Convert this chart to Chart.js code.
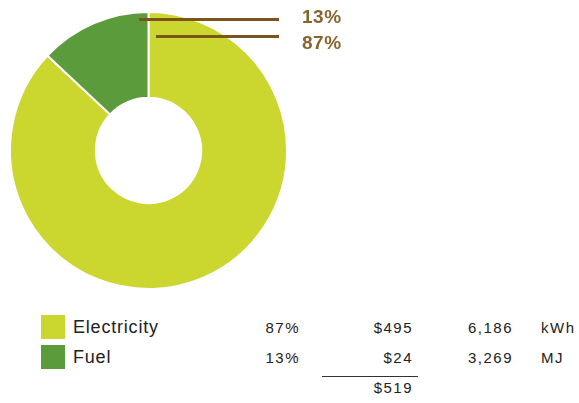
<!DOCTYPE html>
<html>
<head>
<meta charset="utf-8">
<script src="https://cdn.jsdelivr.net/npm/chart.js@4.4.1/dist/chart.umd.min.js"></script>
<style>
    body { margin: 0; background: #fff; font-family: "Liberation Sans", Arial, sans-serif; }
    #wrap { position: relative; width: 579px; height: 403px; }
    #pie { position: absolute; left: 0; top: 0; }
    .cell { position: absolute; color: #222; white-space: nowrap; line-height: 1; }
    .name { font-size: 18px; letter-spacing: 0.8px; }
    .num { font-size: 15px; letter-spacing: 1.5px; text-align: right; }
    .swatch { position: absolute; width: 24px; height: 24px; }
    #rule { position: absolute; left: 322px; top: 376px; width: 96px; height: 1px; background: #333; }
</style>
</head>
<body>
<div id="wrap">
    <canvas id="pie" width="579" height="303"></canvas>
    <div id="rule"></div>
</div>
<script>
var categories = ['Electricity', 'Fuel'];
var shares = [87, 13];
var costs = [495, 24];
var usage = [6186, 3269];
var units = ['kWh', 'MJ'];
var colors = ['#cbd62f', '#5c9b3c'];

// leader lines from the top of the ring out to the percentage labels
var leaderLines = {
    id: 'leaderLines',
    afterDatasetsDraw: function (chart) {
        var ctx = chart.ctx;
        var arcs = chart.getDatasetMeta(0).data;
        var marks = [];
        arcs.forEach(function (arc, i) {
            var p = arc.getProps(['x', 'y', 'startAngle', 'endAngle', 'outerRadius']);
            var a, r;
            if (i === 0) { a = p.startAngle + 0.065; r = p.outerRadius - 23.5; }
            else { a = p.endAngle - 0.072; r = p.outerRadius - 6.5; }
            marks.push({ x: p.x + Math.cos(a) * r, y: p.y + Math.sin(a) * r, text: shares[i] + '%' });
        });
        marks.sort(function (m, n) { return m.y - n.y; });
        ctx.save();
        ctx.strokeStyle = '#7a561c';
        ctx.lineWidth = 3;
        ctx.fillStyle = '#86652e';
        ctx.font = 'bold 19px "Liberation Sans", Arial, sans-serif';
        ctx.letterSpacing = '0.5px';
        ctx.textBaseline = 'middle';
        var labelY = [18, 44];
        marks.forEach(function (m, k) {
            ctx.beginPath();
            ctx.moveTo(m.x, Math.round(m.y) + 0.5);
            ctx.lineTo(279, Math.round(m.y) + 0.5);
            ctx.stroke();
            ctx.fillText(m.text, 302, labelY[k]);
        });
        ctx.restore();
    }
};

new Chart(document.getElementById('pie'), {
    type: 'doughnut',
    data: {
        labels: categories,
        datasets: [{
            data: shares,
            backgroundColor: colors,
            borderColor: '#ffffff',
            borderWidth: 2,
            hoverOffset: 0
        }]
    },
    options: {
        responsive: false,
        animation: false,
        cutout: '38%',
        layout: { padding: { left: 9, top: 11, right: 291, bottom: 13 } },
        plugins: { legend: { display: false }, tooltip: { enabled: false } }
    },
    plugins: [leaderLines]
});

// table underneath the ring
var wrap = document.getElementById('wrap');
function cell(cls, text, x, y, right) {
    var d = document.createElement('div');
    d.className = 'cell ' + cls;
    d.textContent = text;
    if (right) { d.style.right = (579 - x) + 'px'; }
    else { d.style.left = x + 'px'; }
    d.style.top = y + 'px';
    wrap.appendChild(d);
    return d;
}
var rowY = [328, 358];
categories.forEach(function (name, i) {
    var sw = document.createElement('div');
    sw.className = 'swatch';
    sw.style.left = '41px';
    sw.style.top = (rowY[i] - 13) + 'px';
    sw.style.background = colors[i];
    wrap.appendChild(sw);
    cell('name', name, 73, rowY[i] - 10);
    cell('num', shares[i] + '%', 300, rowY[i] - 8, true);
    cell('num', '$' + costs[i], 413, rowY[i] - 8, true);
    cell('num', usage[i].toLocaleString('en-US'), 513, rowY[i] - 8, true);
    cell('num', units[i], 541, rowY[i] - 8);
});
var total = costs.reduce(function (s, v) { return s + v; }, 0);
cell('num', '$' + total, 413, 380, true);
</script>
</body>
</html>
